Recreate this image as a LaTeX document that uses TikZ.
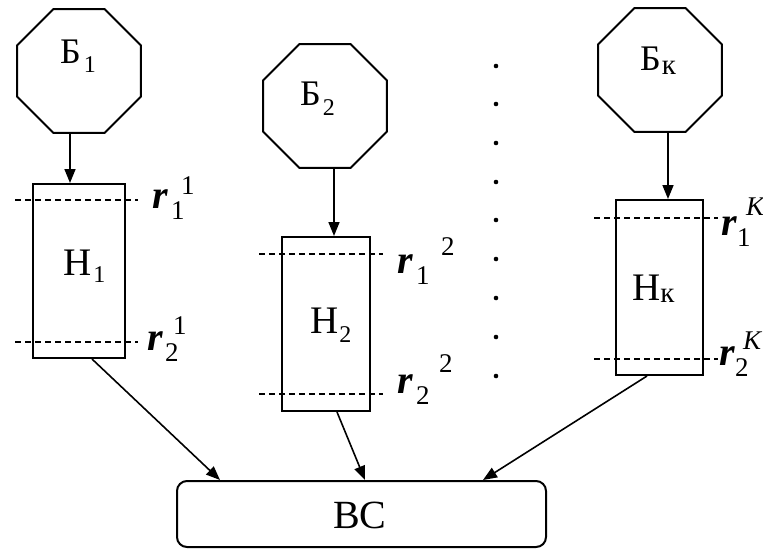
\documentclass[tikz,border=0pt]{standalone}
\usepackage{fontspec}
\setmainfont{Liberation Serif}
\usetikzlibrary{shapes.geometric,arrows.meta,calc}
\newcommand{\lsub}[3]{\hspace{#1}\raisebox{-#2}{\fontsize{24}{26}\selectfont #3}}
\newcommand{\rlab}[5]{\rlap{\textbf{\textit{r}}}\rlap{\hspace{#1}\raisebox{-11pt}{\fontsize{27}{29}\selectfont #4}}\hspace{#2}\raisebox{#3}{\fontsize{27}{29}\selectfont #5}}
\begin{document}
\begin{tikzpicture}[x=1pt,y=-1pt,
  oct/.style={draw, regular polygon, regular polygon sides=8, minimum size=134pt, inner sep=0pt, line width=2pt},
  stor/.style={draw, rectangle, line width=2pt, inner sep=0pt},
  arr/.style={-{Triangle[length=14pt,width=11pt]}, line width=1.6pt},
  dline/.style={dash pattern=on 6pt off 4pt, line width=1.4pt},
  lbl/.style={anchor=base west, inner sep=0pt},
  bfont/.style={font=\fontsize{36}{40}\selectfont},
  hfont/.style={font=\fontsize{39}{42}\selectfont},
  rfont/.style={font=\fontsize{40}{44}\selectfont}]
\useasboundingbox (0,0) rectangle (763,550);
% sources
\node[oct] (b1) at (79,71) {};
\node[oct] (b2) at (325,106) {};
\node[oct] (bk) at (660,70) {};
\node[lbl,bfont] (tb1) at (60,63) {Б\lsub{3pt}{9pt}{1}};
\node[lbl,bfont] (tb2) at (300,105) {Б\lsub{2pt}{10pt}{2}};
\node[lbl,bfont] (tbk) at (640,70) {Б\lsub{1pt}{4pt}{\fontsize{29}{30}\selectfont к}};
% stores
\node[stor, minimum width=92pt, minimum height=174pt] (h1) at (79,271) {};
\node[stor, minimum width=88pt, minimum height=174pt] (h2) at (326,324) {};
\node[stor, minimum width=87pt, minimum height=175pt] (hk) at (659.5,287.5) {};
\node[lbl,hfont] (th1) at (63,275) {Н\lsub{2pt}{7pt}{1}};
\node[lbl,hfont] (th2) at (310,333) {Н\lsub{1pt}{9pt}{2}};
\node[lbl,hfont] (thk) at (632,300) {Н\lsub{0pt}{2pt}{\fontsize{29}{30}\selectfont к}};
% system
\node[stor, rounded corners=10pt, minimum width=369pt, minimum height=66pt] (vs) at (361.5,514) {};
\node[lbl,font=\fontsize{40}{42}\selectfont] (tvs) at (333,528) {ВС};
% thresholds
\draw[dline] ([xshift=-17pt,yshift=-17pt]h1.north west) -- ([xshift=12pt,yshift=-17pt]h1.north east);
\draw[dline] ([xshift=-17pt,yshift=17pt]h1.south west) -- ([xshift=12pt,yshift=17pt]h1.south east);
\draw[dline] ([xshift=-22pt,yshift=-18pt]h2.north west) -- ([xshift=12pt,yshift=-18pt]h2.north east);
\draw[dline] ([xshift=-22pt,yshift=18pt]h2.south west) -- ([xshift=12pt,yshift=18pt]h2.south east);
\draw[dline] ([xshift=-21pt,yshift=-19pt]hk.north west) -- ([xshift=14pt,yshift=-19pt]hk.north east);
\draw[dline] ([xshift=-21pt,yshift=17pt]hk.south west) -- ([xshift=14pt,yshift=17pt]hk.south east);
\node[lbl,rfont] (r11) at (152,208) {\rlab{19pt}{29pt}{14pt}{1}{1}};
\node[lbl,rfont] (r21) at (147,350) {\rlab{18pt}{26pt}{16pt}{2}{1}};
\node[lbl,rfont] (r12) at (397,273) {\rlab{19pt}{44pt}{18pt}{1}{2}};
\node[lbl,rfont] (r22) at (397,393) {\rlab{19pt}{42pt}{21pt}{2}{2}};
\node[lbl,rfont] (r1k) at (721,235) {\rlab{16pt}{25pt}{20pt}{1}{\textit{K}}};
\node[lbl,rfont] (r2k) at (719,365) {\rlab{16pt}{24pt}{16pt}{2}{\textit{K}}};
% arrows
\draw[arr] ([xshift=-9pt]b1.south) -- ([xshift=-9pt]b1.south |- h1.north);
\draw[arr] ([xshift=9pt]b2.south) -- ([xshift=9pt]b2.south |- h2.north);
\draw[arr] ([xshift=8pt]bk.south) -- ([xshift=8pt]bk.south |- hk.north);
\draw[arr] ([xshift=13pt]h1.south) -- ([xshift=-141.5pt]vs.north);
\draw[arr] ([xshift=11pt]h2.south) -- ([xshift=3.5pt]vs.north);
\draw[arr] ([xshift=-12.5pt]hk.south) -- ([xshift=121.5pt]vs.north);
% ellipsis dots
\foreach \y in {66,104,143,182,220,259,298,337,376} \fill (496,\y) circle (2.3pt);
\end{tikzpicture}
\end{document}
